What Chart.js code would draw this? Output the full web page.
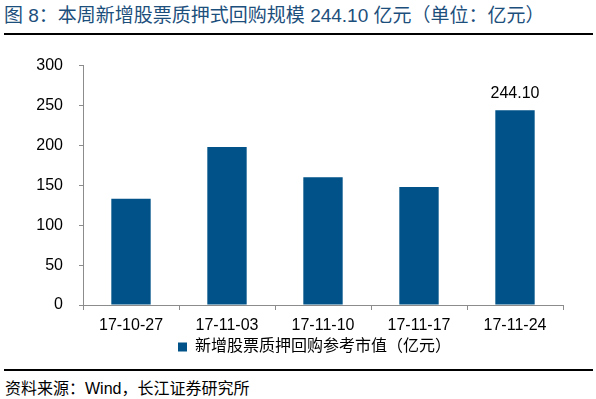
<!DOCTYPE html>
<html>
<head>
<meta charset="utf-8">
<script src="https://cdn.jsdelivr.net/npm/chart.js"></script>
<style>
  html, body { margin: 0; padding: 0; background: #fff; }
  body { width: 596px; height: 399px; position: relative; overflow: hidden;
         font-family: "Liberation Sans", Arial, "Noto Sans CJK SC", sans-serif; }
  #title { position: absolute; left: 4px; top: 4px; font-size: 19px; line-height: 24px; color: #1d4f7c; white-space: nowrap; }
  .rule { position: absolute; left: 4px; width: 589px; height: 2px; background: #000; }
  #chartBox { position: absolute; left: 0; top: 40px; width: 596px; height: 325px; }
  #source { position: absolute; left: 5px; top: 379px; font-size: 16px; line-height: 20px; color: #000; white-space: nowrap; }
</style>
</head>
<body>
<div id="title">图 8：本周新增股票质押式回购规模 244.10 亿元（单位：亿元）</div>
<div class="rule" style="top:33px"></div>
<div id="chartBox"><canvas id="chart"></canvas></div>
<div class="rule" style="top:369px"></div>
<div id="source">资料来源：Wind，长江证券研究所</div>
<script>
// data
const categories = ['17-10-27', '17-11-03', '17-11-10', '17-11-17', '17-11-24'];
const values = [133, 198, 160, 148, 244.10];
const seriesName = '新增股票质押回购参考市值（亿元）';
const labelIndex = [4]; // only the last bar carries a value label

const fontFamily = '"Liberation Sans", Arial, "Noto Sans CJK SC", sans-serif';

// draws the value above selected bars
const barLabels = {
    id: 'barLabels',
    afterDatasetsDraw(chart) {
        const ctx = chart.ctx;
        const meta = chart.getDatasetMeta(0);
        ctx.save();
        ctx.font = '16px ' + fontFamily;
        ctx.fillStyle = '#000';
        ctx.textAlign = 'center';
        ctx.textBaseline = 'alphabetic';
        labelIndex.forEach(i => {
            const bar = meta.data[i];
            ctx.fillText(values[i].toFixed(2), bar.x, bar.y - 12);
        });
        ctx.restore();
    }
};

// legend sits a bit right of the canvas centre in the original
const legendShift = {
    id: 'legendShift',
    afterLayout(chart) {
        chart.legend.left += 33;
        chart.legend.right += 33;
    }
};

new Chart(document.getElementById('chart'), {
    type: 'bar',
    data: {
        labels: categories,
        datasets: [{
            label: seriesName,
            data: values,
            backgroundColor: '#005288',
            borderWidth: 0,
            barPercentage: 0.41,
            categoryPercentage: 1
        }]
    },
    options: {
        responsive: true,
        maintainAspectRatio: false,
        animation: false,
        layout: { padding: { left: 0, right: 33, top: 24, bottom: 0 } },
        plugins: {
            legend: {
                position: 'bottom',
                labels: {
                    boxWidth: 9,
                    boxHeight: 9,
                    padding: 4,
                    color: '#000',
                    font: { size: 16, family: fontFamily }
                }
            },
            tooltip: { enabled: false }
        },
        scales: {
            x: {
                grid: { display: true, drawOnChartArea: false, tickLength: 5, color: '#8c8c8c' },
                border: { color: '#8c8c8c' },
                ticks: { color: '#000', padding: 6, font: { size: 16, family: fontFamily }, maxRotation: 0 },
                afterFit(scale) { scale.height = 30; }
            },
            y: {
                min: 0,
                max: 300,
                grid: { display: true, drawOnChartArea: false, tickLength: 4, color: '#8c8c8c' },
                border: { color: '#8c8c8c' },
                ticks: { stepSize: 50, color: '#000', padding: 16, font: { size: 16, family: fontFamily } },
                afterFit(scale) { scale.width = 83; }
            }
        }
    },
    plugins: [barLabels, legendShift]
});
</script>
</body>
</html>
